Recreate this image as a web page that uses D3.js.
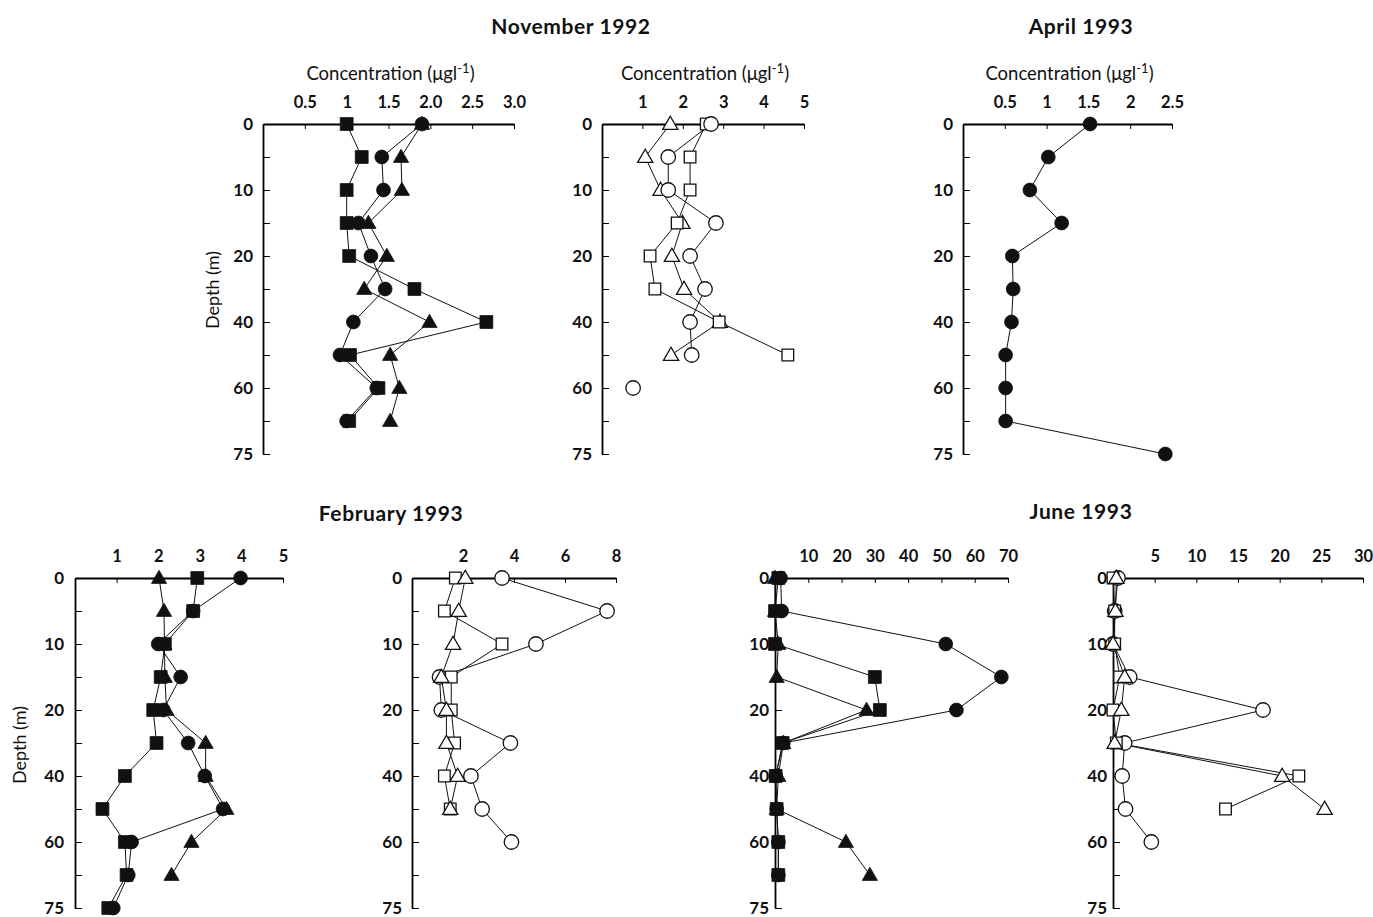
<!DOCTYPE html>
<html>
<head>
<meta charset="utf-8">
<script src="https://cdn.jsdelivr.net/npm/d3@7"></script>
<style>
  body { margin: 0; background: #fff; }
  svg text { font-family: Lato, "Open Sans", sans-serif; fill: #111; }
</style>
</head>
<body>
<div id="chart"></div>
<script>
// depths sampled (the depth axis is spaced by sample, not by metres)
const depths = [0, 5, 10, 15, 20, 30, 40, 50, 60, 70, 75];
const depthTickLabels = [0, 10, 20, 40, 60, 75];

// November 1992
const novClosedSquare   = [1.00, 1.18, 1.00, 1.00, 1.03, 1.81, 2.67, 1.04, 1.38, 1.03, null];
const novClosedCircle   = [1.90, 1.42, 1.44, 1.14, 1.29, 1.46, 1.08, 0.92, 1.36, 1.00, null];
const novClosedTriangle = [1.90, 1.65, 1.66, 1.26, 1.48, 1.21, 1.99, 1.52, 1.63, 1.52, null];
const novOpenTriangle   = [1.69, 1.07, 1.45, 1.99, 1.73, 2.03, 2.92, 1.71, null, null, null];
const novOpenCircle     = [2.70, 1.64, 1.64, 2.82, 2.18, 2.55, 2.18, 2.22, 0.77, null, null];
const novOpenSquare     = [2.58, 2.18, 2.18, 1.86, 1.19, 1.31, 2.90, 4.60, null, null, null];

// April 1993
const aprCircle = [1.52, 1.02, 0.80, 1.18, 0.59, 0.60, 0.58, 0.51, 0.51, 0.51, 2.42];

// February 1993
const febClosedTriangle = [2.02, 2.14, 2.15, 2.16, 2.20, 3.14, 3.14, 3.64, 2.80, 2.32, null];
const febClosedSquare   = [2.94, 2.84, 2.16, 2.06, 1.88, 1.96, 1.20, 0.66, 1.20, 1.24, 0.80];
const febClosedCircle   = [3.98, 2.84, 2.00, 2.54, 2.12, 2.72, 3.12, 3.56, 1.36, 1.28, 0.92];
const febOpenCircle     = [3.53, 7.65, 4.86, 1.08, 1.15, 3.86, 2.31, 2.75, 3.90, null, null];
const febOpenSquare     = [1.70, 1.27, 3.53, 1.54, 1.54, 1.67, 1.27, 1.50, null, null, null];
const febOpenTriangle   = [2.09, 1.83, 1.61, 1.15, 1.35, 1.35, 1.79, 1.50, null, null, null];

// June 1993
const junClosedCircle   = [1.7, 2.0, 51.3, 68.0, 54.5, 2.5, 0.2, 0.5, 1.0, 1.0, null];
const junClosedSquare   = [1.0, 0.0, 0.0, 30.0, 31.5, 2.3, 0.2, 0.5, 1.0, 1.0, null];
const junClosedTriangle = [0.0, 0.0, 1.0, 0.5, 27.5, 2.5, 1.0, 0.5, 21.3, 28.5, null];
const junOpenCircle     = [0.6, 0.2, 0.0, 2.0, 18.0, 1.4, 1.1, 1.5, 4.6, null, null];
const junOpenSquare     = [0.0, 0.2, 0.2, 0.8, 0.0, 0.4, 22.3, 13.5, null, null, null];
const junOpenTriangle   = [0.4, 0.3, 0.0, 1.4, 1.0, 0.2, 20.3, 25.4, null, null, null];

// x tick values and their printed labels
const novClosedTicks = [0.5, 1, 1.5, 2, 2.5, 3];
const novClosedTickLabels = ["0.5", "1", "1.5", "2.0", "2.5", "3.0"];
const fiveTicks = [1, 2, 3, 4, 5];
const aprTicks = [0.5, 1, 1.5, 2, 2.5];
const aprTickLabels = ["0.5", "1", "1.5", "2", "2.5"];
const febOpenTicks = [2, 4, 6, 8];
const junClosedTicks = [10, 20, 30, 40, 50, 60, 70];
const junOpenTicks = [5, 10, 15, 20, 25, 30];

var w = 1373, h = 917;
var svg = d3.select("#chart").append("svg")
    .attr("width", w)
    .attr("height", h);

var panels = [
    { x0: 263, x1: 514, max: 3, top: 124, bot: 454, ticks: novClosedTicks, labels: novClosedTickLabels, lab: 10, conc: true,
      series: [["square", false, novClosedSquare], ["circle", false, novClosedCircle], ["triangle", false, novClosedTriangle]] },
    { x0: 602, x1: 804, max: 5, top: 124, bot: 454, ticks: fiveTicks, lab: 10, conc: true, gapAt: { circle: 60 },
      series: [["triangle", true, novOpenTriangle], ["square", true, novOpenSquare], ["circle", true, novOpenCircle]] },
    { x0: 963, x1: 1172, max: 2.5, top: 124, bot: 454, ticks: aprTicks, labels: aprTickLabels, lab: 10, conc: true,
      series: [["circle", false, aprCircle]] },
    { x0: 75, x1: 283, max: 5, top: 578, bot: 908, ticks: fiveTicks, lab: 11,
      series: [["triangle", false, febClosedTriangle], ["square", false, febClosedSquare], ["circle", false, febClosedCircle]] },
    { x0: 412, x1: 616, max: 8, top: 578, bot: 908, ticks: febOpenTicks, lab: 10,
      series: [["circle", true, febOpenCircle], ["square", true, febOpenSquare], ["triangle", true, febOpenTriangle]] },
    { x0: 775, x1: 1008, max: 70, top: 578, bot: 908, ticks: junClosedTicks, lab: 6,
      series: [["circle", false, junClosedCircle], ["triangle", false, junClosedTriangle], ["square", false, junClosedSquare]] },
    { x0: 1113, x1: 1363, max: 30, top: 578, bot: 908, ticks: junOpenTicks, lab: 6,
      series: [["circle", true, junOpenCircle], ["square", true, junOpenSquare], ["triangle", true, junOpenTriangle]] }
];

var symbolType = { circle: d3.symbolCircle, square: d3.symbolSquare, triangle: d3.symbolTriangle };
var symbolSize = {
    circle: { closed: 150, open: 165 },
    square: { closed: 165, open: 135 },
    triangle: { closed: 100, open: 100 }
};

panels.forEach(function(p) {
    var x = d3.scaleLinear().domain([0, p.max]).range([p.x0, p.x1]);
    var y = d3.scalePoint().domain(depths).range([p.top, p.bot]);
    var g = svg.append("g");

    // top axis, ticks pointing into the plot
    var xAxis = g.append("g")
        .attr("transform", "translate(0," + p.top + ")")
        .call(d3.axisTop(x)
            .tickValues(p.ticks)
            .tickFormat(function(d, i) { return p.labels ? p.labels[i] : d; })
            .tickSizeInner(-5)
            .tickSizeOuter(0)
            .tickPadding(16));
    xAxis.select(".domain").attr("stroke-width", 1.8);
    xAxis.selectAll("text").attr("font-size", 16.5).attr("font-family", null).attr("font-weight", "bold");

    // depth axis
    var yAxis = g.append("g")
        .attr("transform", "translate(" + p.x0 + ",0)")
        .call(d3.axisLeft(y)
            .tickValues(depths)
            .tickFormat(function(d) { return depthTickLabels.indexOf(d) >= 0 ? d : ""; })
            .tickSizeInner(-7)
            .tickSizeOuter(0)
            .tickPadding(p.lab));
    yAxis.select(".domain").attr("stroke-width", 1.8);
    yAxis.selectAll("text").attr("font-size", 17).attr("font-family", null).attr("font-weight", "bold");

    if (p.conc) {
        var t = g.append("text")
            .attr("x", (p.x0 + p.x1) / 2 + 2)
            .attr("y", 80)
            .attr("text-anchor", "middle")
            .attr("font-size", 18.5);
        t.append("tspan").text("Concentration (\u03bcgl");
        t.append("tspan").attr("dy", -7).attr("font-size", 13).text("-1");
        t.append("tspan").attr("dy", 7).text(")");
    }

    // lines
    p.series.forEach(function(s) {
        var shape = s[0], values = s[2];
        var pts = depths.map(function(d, i) { return { depth: d, value: values[i] }; })
            .filter(function(d) { return d.value != null; });
        var gap = p.gapAt && p.gapAt[shape];
        var linked = pts.filter(function(d) { return gap == null || d.depth < gap; });
        g.append("path")
            .datum(linked)
            .attr("fill", "none")
            .attr("stroke", "#111")
            .attr("stroke-width", 1)
            .attr("d", d3.line()
                .x(function(d) { return x(d.value); })
                .y(function(d) { return y(d.depth); }));
        s.pts = pts;
    });

    // markers
    p.series.forEach(function(s) {
        var shape = s[0], open = s[1];
        g.append("g")
            .selectAll("path")
            .data(s.pts)
            .enter()
            .append("path")
            .attr("transform", function(d) {
                var dy = shape === "triangle" ? 1 : 0;
                return "translate(" + x(d.value) + "," + (y(d.depth) + dy) + ")";
            })
            .attr("d", d3.symbol().type(symbolType[shape]).size(symbolSize[shape][open ? "open" : "closed"]))
            .attr("fill", open ? "#fff" : "#111")
            .attr("stroke", "#111")
            .attr("stroke-width", open ? 1.3 : 0.8);
    });
});

// titles
var titles = [
    { text: "November 1992", x: 571, y: 34 },
    { text: "April 1993", x: 1081, y: 34 },
    { text: "February 1993", x: 391, y: 521 },
    { text: "June 1993", x: 1081, y: 519 }
];
svg.selectAll(".title")
    .data(titles)
    .enter()
    .append("text")
    .attr("class", "title")
    .attr("x", function(d) { return d.x; })
    .attr("y", function(d) { return d.y; })
    .attr("text-anchor", "middle")
    .attr("font-size", 21)
    .attr("font-weight", "bold")
    .attr("letter-spacing", 0.6)
    .text(function(d) { return d.text; });

// depth labels
[{ x: 219, y: 290 }, { x: 26, y: 745 }].forEach(function(d) {
    svg.append("text")
        .attr("transform", "translate(" + d.x + "," + d.y + ") rotate(-90)")
        .attr("text-anchor", "middle")
        .attr("font-size", 18)
        .text("Depth (m)");
});
</script>
</body>
</html>
